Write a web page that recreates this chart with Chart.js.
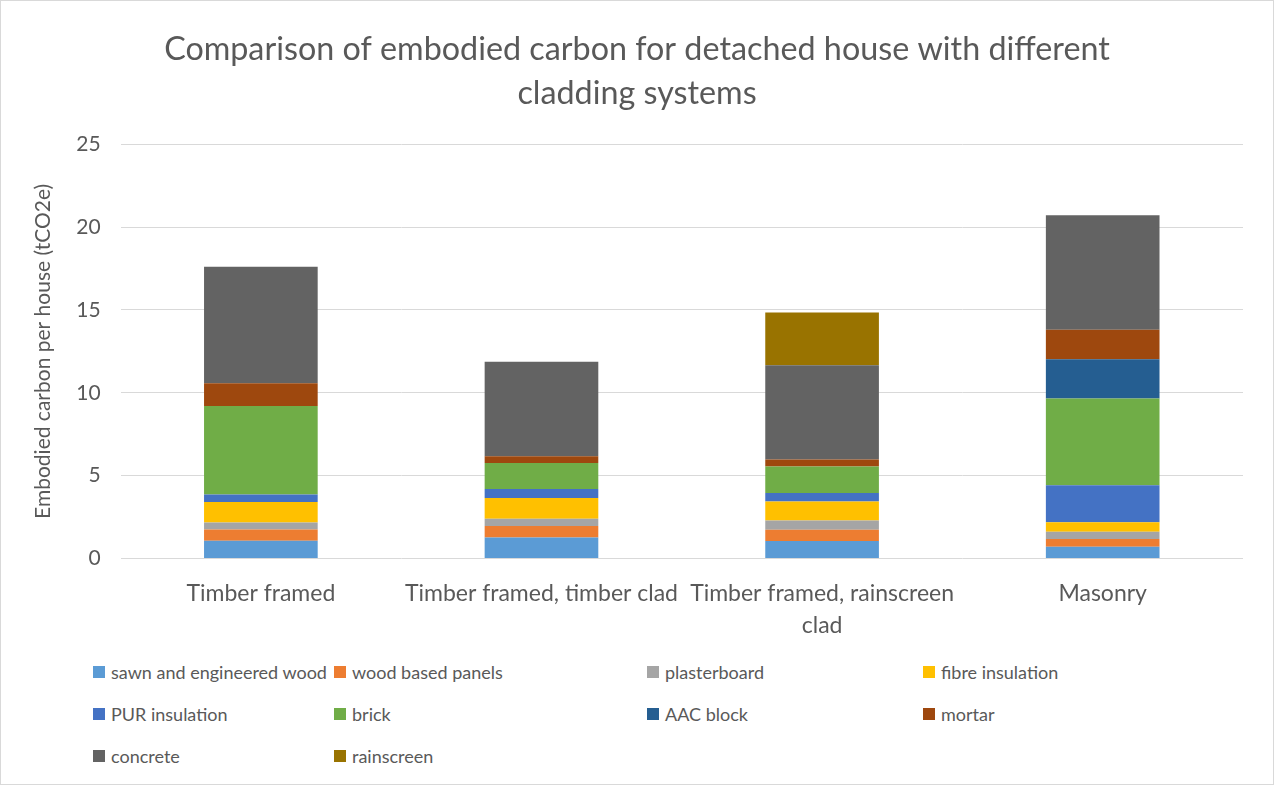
<!DOCTYPE html>
<html lang="en">
<head>
<meta charset="UTF-8">
<title>Embodied carbon - cladding systems</title>
<script src="https://cdn.jsdelivr.net/npm/chart.js"></script>
<style>
  body { margin: 0; background: #fff; }
  .frame { position: relative; width: 1272px; height: 783px; border: 1px solid #d9d9d9; overflow: hidden; }
  #chartWrap { position: absolute; left: 0; top: 0; width: 1272px; height: 656px; }
  #legend { position: absolute; left: 92px; top: 660px; display: grid;
            grid-template-columns: 241px 313px 276px 300px; row-gap: 20px;
            font-family: Lato, "Open Sans", sans-serif; font-size: 18px; color: #595959; }
  #legend span.item { display: flex; align-items: center; height: 22px; white-space: nowrap; }
  #legend i { display: inline-block; flex: 0 0 12px; width: 12px; height: 12px; margin-right: 6px; }
</style>
</head>
<body>
<div class="frame">
  <div id="chartWrap"><canvas id="chart"></canvas></div>
  <div id="legend"></div>
</div>
<script>
// categories
const houseTypes = ['Timber framed', 'Timber framed, timber clad', ['Timber framed, rainscreen', 'clad'], 'Masonry'];

// tCO2e per house, per material
const sawnWood      = [1.08, 1.28, 1.06, 0.72];
const woodPanels    = [0.68, 0.68, 0.68, 0.46];
const plasterboard  = [0.42, 0.44, 0.56, 0.44];
const fibreInsul    = [1.24, 1.26, 1.14, 0.58];
const purInsul      = [0.44, 0.54, 0.52, 2.22];
const brick         = [5.35, 1.56, 1.60, 5.23];
const aacBlock      = [0, 0, 0, 2.38];
const mortar        = [1.37, 0.42, 0.42, 1.78];
const concrete      = [7.02, 5.69, 5.69, 6.90];
const rainscreen    = [0, 0, 3.18, 0];

const series = [
  { label: 'sawn and engineered wood', data: sawnWood, color: '#5B9BD5' },
  { label: 'wood based panels', data: woodPanels, color: '#ED7D31' },
  { label: 'plasterboard', data: plasterboard, color: '#A5A5A5' },
  { label: 'fibre insulation', data: fibreInsul, color: '#FFC000' },
  { label: 'PUR insulation', data: purInsul, color: '#4472C4' },
  { label: 'brick', data: brick, color: '#70AD47' },
  { label: 'AAC block', data: aacBlock, color: '#255E91' },
  { label: 'mortar', data: mortar, color: '#9E480E' },
  { label: 'concrete', data: concrete, color: '#636363' },
  { label: 'rainscreen', data: rainscreen, color: '#997300' }
];

const fontFamily = 'Lato, "Open Sans", sans-serif';
const textColor = '#595959';

new Chart(document.getElementById('chart'), {
  type: 'bar',
  data: {
    labels: houseTypes,
    datasets: series.map(s => ({
      label: s.label,
      data: s.data,
      backgroundColor: s.color,
      borderWidth: 0,
      categoryPercentage: 0.5,
      barPercentage: 0.81
    }))
  },
  options: {
    responsive: true,
    maintainAspectRatio: false,
    animation: false,
    layout: { padding: { left: 30, right: 30, top: 26, bottom: 4 } },
    plugins: {
      legend: { display: false },
      tooltip: { enabled: false },
      title: {
        display: true,
        text: ['Comparison of embodied carbon for detached house with different', 'cladding systems'],
        color: textColor,
        font: { family: fontFamily, size: 32.3, weight: 'normal', lineHeight: 1.38 },
        padding: { top: 0, bottom: 28 }
      }
    },
    scales: {
      x: {
        stacked: true,
        grid: { display: false },
        border: { display: false },
        ticks: { color: textColor, font: { family: fontFamily, size: 23, lineHeight: 1.4 }, maxRotation: 0, autoSkip: false, padding: 11 }
      },
      y: {
        stacked: true,
        min: 0,
        max: 25,
        ticks: { stepSize: 5, color: textColor, font: { family: fontFamily, size: 21 }, padding: 20 },
        grid: { color: '#d9d9d9', lineWidth: 1, drawTicks: false },
        border: { display: false },
        title: {
          display: true,
          text: 'Embodied carbon per house (tCO2e)',
          color: textColor,
          font: { family: fontFamily, size: 21, weight: 'normal' },
          padding: { top: 0, bottom: 0 }
        }
      }
    }
  }
});

// legend in a fixed 4-column grid, like the original
const legendBox = document.getElementById('legend');
series.forEach(s => {
  const item = document.createElement('span');
  item.className = 'item';
  item.innerHTML = '<i style="background:' + s.color + '"></i>' + s.label;
  legendBox.appendChild(item);
});
</script>
</body>
</html>
